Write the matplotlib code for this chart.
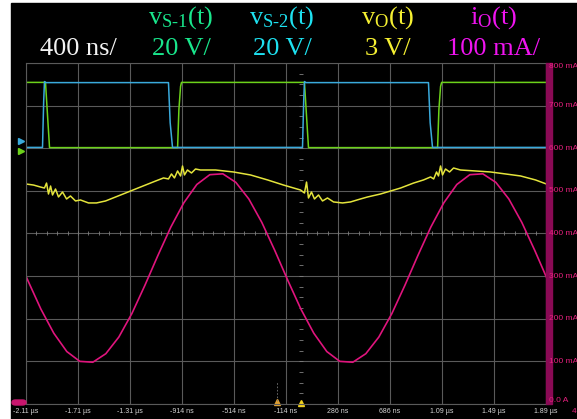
import matplotlib
matplotlib.use("Agg")
import matplotlib.pyplot as plt
import numpy as np
from matplotlib.patches import Rectangle, FancyBboxPatch

W, H = 577, 419

# horizontal: 400 ns/div, vertical grid labelled in the current channel's units
time_ticks = [-2.114, -1.714, -1.314, -0.914, -0.514, -0.114,
              0.286, 0.686, 1.086, 1.486, 1.886]
time_labels = ["-2.11 µs", "-1.71 µs", "-1.31 µs", "-914 ns", "-514 ns", "-114 ns",
               "286 ns", "686 ns", "1.09 µs", "1.49 µs", "1.89 µs"]
current_ticks = [0, 100, 200, 300, 400, 500, 600, 700, 800]
current_labels = ["0.0 A", "100 mA", "200 mA", "300 mA", "400 mA",
                  "500 mA", "600 mA", "700 mA", "800 mA"]

# switch-node voltages vS-1 / vS-2 (V), 20 V/div, ground on the 600 mA line
vs1_t = [-2.2, -1.964, -1.948, -1.933, -0.948, -0.938, -0.925, -0.918,
         0.028, 0.044, 0.059, 1.052, 1.062, 1.075, 1.083, 1.95]
vs1_v = [30.9, 30.9, 15.0, 0.3, 0.3, 18.0, 29.0, 30.9,
         30.9, 15.0, 0.3, 0.3, 18.0, 29.0, 30.9, 30.9]
vs2_t = [-2.2, -1.987, -1.978, -1.972, -1.96, -1.018, -1.005, -0.987,
         0.013, 0.022, 0.028, 0.04, 0.982, 0.995, 1.013, 1.95]
vs2_v = [0.4, 0.4, 22.0, 31.3, 30.8, 30.8, 12.0, 0.4,
         0.4, 22.0, 31.3, 30.8, 30.8, 12.0, 0.4, 0.4]

# output voltage vO (V), 3 V/div
vo_t = [-2.110, -2.056, -2.002, -1.972, -1.956, -1.941, -1.925, -1.910, -1.887,
        -1.864, -1.833, -1.802, -1.772, -1.733, -1.695, -1.633, -1.572, -1.502,
        -1.425, -1.348, -1.272, -1.195, -1.118, -1.056, -1.018, -0.995, -0.972,
        -0.948, -0.925, -0.910, -0.895, -0.872, -0.841, -0.810, -0.772, -0.656,
        -0.518, -0.387, -0.256, -0.133, -0.002, 0.028, 0.044, 0.059, 0.082,
        0.105, 0.136, 0.167, 0.205, 0.252, 0.321, 0.382, 0.459, 0.513, 0.613,
        0.767, 0.867, 0.944, 0.998, 1.022, 1.044, 1.059, 1.075, 1.090, 1.113,
        1.144, 1.175, 1.228, 1.344, 1.459, 1.575, 1.690, 1.805, 1.890]
vo_v = [15.48, 15.41, 15.27, 15.20, 15.55, 14.78, 15.34, 14.71, 15.13,
        14.57, 14.92, 14.43, 14.64, 14.29, 14.36, 14.15, 14.15, 14.29,
        14.57, 14.85, 15.13, 15.41, 15.69, 15.91, 15.84, 16.19, 15.91,
        16.40, 16.05, 16.75, 16.12, 16.47, 16.26, 16.54, 16.47, 16.47,
        16.33, 16.12, 15.77, 15.41, 15.06, 14.85, 15.62, 14.50, 14.92,
        14.43, 14.71, 14.29, 14.50, 14.22, 14.15, 14.22, 14.43, 14.57, 14.78,
        15.20, 15.55, 15.77, 15.98, 15.84, 16.33, 16.05, 16.75, 16.12, 16.54,
        16.33, 16.61, 16.47, 16.40, 16.33, 16.19, 16.05, 15.77, 15.48]

# output current iO (mA), 100 mA/div
io_t = [-2.2, -2.1, -2.0, -1.9, -1.8, -1.7, -1.6, -1.5, -1.4, -1.3, -1.2,
        -1.1, -1.0, -0.9, -0.8, -0.7, -0.6, -0.5, -0.4, -0.3, -0.2, -0.1,
        0.0, 0.1, 0.2, 0.3, 0.4, 0.5, 0.6, 0.7, 0.8, 0.9, 1.0, 1.1, 1.2,
        1.3, 1.4, 1.5, 1.6, 1.7, 1.8, 1.9]
io_ma = [360, 290, 223, 166, 123, 100, 98, 118, 157, 212, 278,
         348, 415, 472, 515, 538, 540, 520, 481, 426, 360, 290,
         223, 166, 123, 100, 98, 118, 157, 212, 278, 348, 415, 472, 515,
         538, 540, 520, 481, 426, 360, 290]

VS_OFFSET, VS_SCALE = 600, 100 / 20
VO_SCALE = 100 / 3

plt.rcParams["mathtext.fontset"] = "custom"
plt.rcParams["mathtext.rm"] = "Liberation Serif"
plt.rcParams["mathtext.it"] = "Liberation Serif:italic"


def fx(x):
    return x / W


def fy(y):
    return 1 - y / H


fig = plt.figure(figsize=(W / 100, H / 100), dpi=100, facecolor="white")
fig.add_artist(Rectangle((fx(11), 0), 1, fy(3), transform=fig.transFigure,
                         color="black", zorder=0))

ax = fig.add_axes([fx(26), fy(404), (546 - 26) / W, (404 - 63) / H])
ax.set_facecolor("black")
ax.set_xlim(time_ticks[0], time_ticks[-1])
ax.set_ylim(current_ticks[0], current_ticks[-1])

grid_col = "#5a5a5a"
ax.set_xticks(time_ticks)
ax.set_yticks(current_ticks)
ax.set_xticklabels(time_labels, family="Liberation Sans", fontsize=5, color="#d4d4d4")
ax.set_yticklabels([])
ax.tick_params(length=0, pad=3)
ax.grid(color=grid_col, linewidth=0.8)
for s in ax.spines.values():
    s.set_color(grid_col)
    s.set_linewidth(0.8)

# minor graduations on the centre cross
cx, cy = time_ticks[5], current_ticks[4]
minor_t = np.arange(time_ticks[0], time_ticks[-1], 0.08)
minor_i = np.arange(current_ticks[0], current_ticks[-1], 25)
ax.plot(minor_t, np.full_like(minor_t, cy), "|", color="#808080", ms=3, mew=0.6)
ax.plot(np.full_like(minor_i, cx), minor_i, "_", color="#808080", ms=3, mew=0.6)

# traces
ax.plot(vs1_t, VS_OFFSET + np.array(vs1_v) * VS_SCALE, color="#6cd21a", lw=1.1)
ax.plot(vs2_t, VS_OFFSET + np.array(vs2_v) * VS_SCALE, color="#3aaadc", lw=1.1)
ax.plot(vo_t, np.array(vo_v) * VO_SCALE, color="#e4e43c", lw=1.1)
ax.plot(io_t, io_ma, color="#e0147d", lw=1.2)

# current scale strip on the right
pink = "#e8207f"
ax.add_patch(Rectangle((1.0, 0), 6 / 520, 1, transform=ax.transAxes,
                       color="#8a0a55", clip_on=False, zorder=3))
for val, lab in zip(current_ticks, current_labels):
    va = "center"
    if val == current_ticks[0]:
        va = "bottom"
    elif val == current_ticks[-1]:
        va = "top"
    ax.text(1.005, val, lab, transform=ax.get_yaxis_transform(), ha="left", va=va,
            family="Liberation Sans", fontsize=6, color=pink, zorder=4,
            clip_on=False)

# channel markers
ax.plot([-0.01], [0.771], ">", transform=ax.transAxes, color="#3aaadc",
        ms=4.5, clip_on=False)
ax.plot([-0.01], [0.742], ">", transform=ax.transAxes, color="#6cd21a",
        ms=4.5, clip_on=False)
fig.add_artist(FancyBboxPatch((fx(12), fy(405)), fx(14) - fx(0), fy(400) - fy(405),
                              boxstyle="round,pad=0,rounding_size=0.006",
                              transform=fig.transFigure, color="#c8166e"))
ax.plot([cx - 0.07], [4], "^", color="#e0a030", ms=4, clip_on=False)
ax.plot([cx + 0.115], [3], "^", color="#f0d020", ms=4, clip_on=False)
ax.plot([cx - 0.07, cx - 0.07], [8, 55], color="#777777", lw=0.6, ls=(0, (2, 2)))
fig.text(fx(572), fy(411), "4", color=pink, fontsize=6, family="Liberation Sans",
         ha="left", va="center")

# channel header
serif = "Liberation Serif"
fs = 19
fig.text(fx(78), fy(55), "400 ns/", color="#f2f2f2", family=serif, fontsize=fs,
         ha="center", va="baseline")
header = [
    (181, r"v$_{\text{S-1}}$(t)", "20 V/", "#19e68c"),
    (282, r"v$_{\text{S-2}}$(t)", "20 V/", "#1ee1f0"),
    (388, r"v$_{\mathrm{O}}$(t)", "3 V/", "#f5f032"),
    (494, r"i$_{\mathrm{O}}$(t)", "100 mA/", "#f014f0"),
]
for x, name, scale, col in header:
    fig.text(fx(x), fy(24), name, color=col, family=serif, fontsize=fs,
             ha="center", va="baseline")
    fig.text(fx(x), fy(55), scale, color=col, family=serif, fontsize=fs,
             ha="center", va="baseline")

fig.savefig("out.png", dpi=100, facecolor=fig.get_facecolor())
